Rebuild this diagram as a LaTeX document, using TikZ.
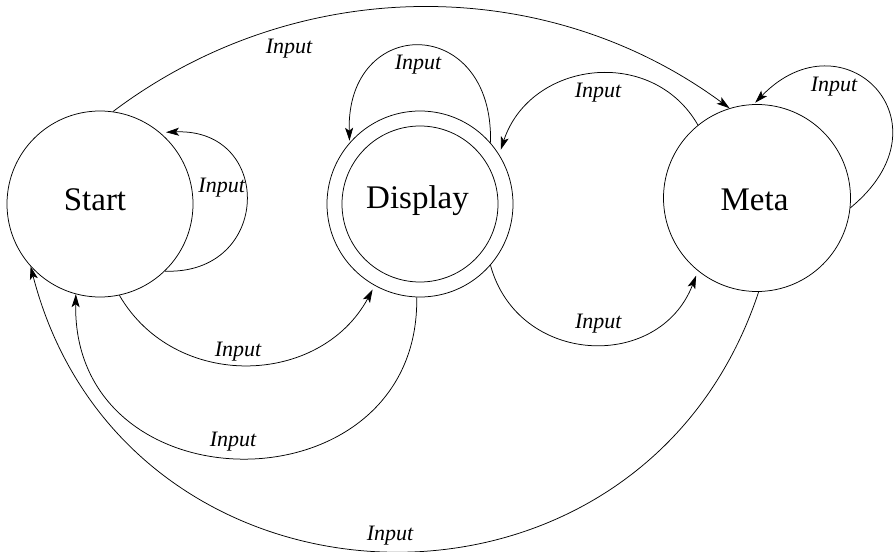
\documentclass[tikz,border=0pt]{standalone}
\usepackage{fontspec}
\setmainfont{Liberation Serif}
\usetikzlibrary{arrows.meta}

\begin{document}
\begin{tikzpicture}[x=1pt,y=-1pt,
  state/.style={circle,draw,line width=0.75pt,inner sep=0pt},
  statename/.style={anchor=base,font=\fontsize{33}{36}\selectfont},
  lbl/.style={anchor=base,font=\fontsize{22}{24}\selectfont\itshape},
  edge/.style={line width=0.75pt,-{Stealth[length=13pt,width=8pt,inset=3pt]}}]

\useasboundingbox (0,0) rectangle (895,552);

% states
\node[state,minimum size=186pt] (start)     at (100,204) {};
\node[state,minimum size=186pt] (display)   at (420,204) {};
\node[state,minimum size=156pt] (displayin) at (420,204) {};
\node[state,minimum size=187pt] (meta)      at (757,198) {};

\node[statename] (starttext)   at (95,210)    {Start};
\node[statename] (displaytext) at (417.5,208) {Display};
\node[statename] (metatext)    at (754.5,210) {Meta};

% transitions
\draw[edge] (start.82) .. controls (297,-27) and (546,-27) .. (meta.107);
\draw[edge,shorten >=6pt] (start.-46) .. controls (272,275) and (274,128) .. (start.50);
\draw[edge,shorten >=2pt] (display.41.6) .. controls (494,14) and (346,14) .. (display.139);
\draw[edge,shorten >=5pt] (meta.129) .. controls (652,45) and (530,61) .. (display.32);
\draw[edge,shorten >=2pt] (meta.-6) .. controls (955,122) and (843,12) .. (meta.92);
\draw[edge,shorten >=4.5pt] (start.-78) .. controls (175,391) and (320,387) .. (display.-119.5);
\draw[edge] (display.-92) .. controls (420,512) and (72,512) .. (start.-105);
\draw[edge,shorten >=5pt] (display.-41) .. controls (518,366) and (659,372) .. (meta.-129);
\draw[edge] (meta.-89) .. controls (640,651) and (125,632) .. (start.-138);

% transition labels
\node[lbl] (l1) at (289,53)      {Input};
\node[lbl] (l2) at (221.7,192.7) {Input};
\node[lbl] (l3) at (418,69)      {Input};
\node[lbl] (l4) at (598,97.7)    {Input};
\node[lbl] (l5) at (834,91.7)    {Input};
\node[lbl] (l6) at (238,356)     {Input};
\node[lbl] (l7) at (233,446.7)   {Input};
\node[lbl] (l8) at (598.3,328.3) {Input};
\node[lbl] (l9) at (390,540)     {Input};
\end{tikzpicture}
\end{document}
